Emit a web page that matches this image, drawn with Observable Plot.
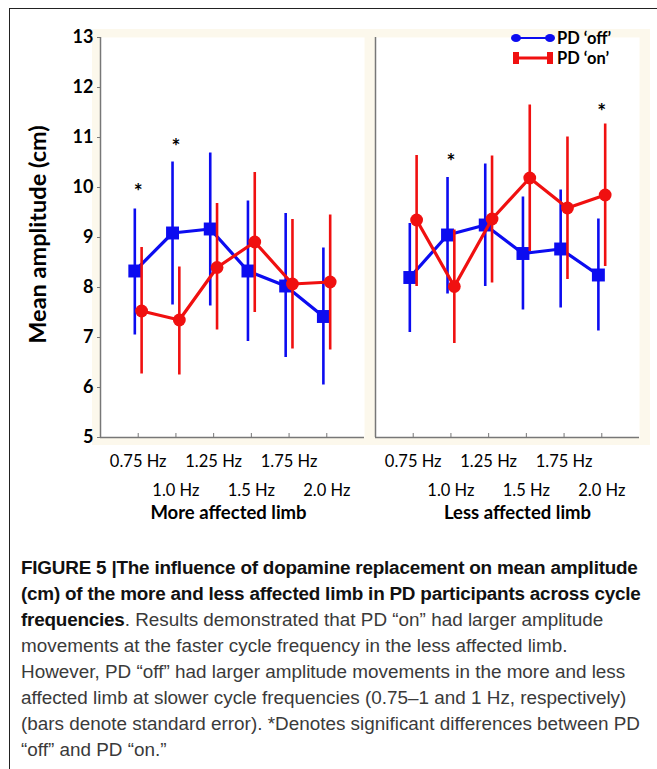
<!DOCTYPE html>
<html>
<head>
<meta charset="utf-8">
<script src="https://cdn.jsdelivr.net/npm/d3@7"></script>
<script src="https://cdn.jsdelivr.net/npm/@observablehq/plot@0.6"></script>
<style>
html,body{margin:0;padding:0;background:#fff;}
#fig{position:relative;width:657px;height:769px;overflow:hidden;font-family:Lato,"Open Sans",sans-serif;}
#border{position:absolute;left:9px;top:8px;width:700px;height:800px;border-left:1px solid #222;border-top:1px solid #222;}
#cream{position:absolute;left:92px;top:29px;width:558px;height:416px;background:#fcf8ec;}
.panel{position:absolute;top:0;}
#legend{position:absolute;left:505px;top:28px;overflow:visible;}
#caption{position:absolute;left:21px;top:555px;font-family:"Liberation Sans Narrow","Liberation Sans",Arial,sans-serif;font-size:17.5px;line-height:26px;color:#3a3a3a;transform-origin:0 0;white-space:nowrap;}
#caption b{color:#111;letter-spacing:-0.2px;}
</style>
</head>
<body>
<div id="fig">
  <div id="border"></div>
  <div id="cream"></div>
  <div id="left" class="panel" style="left:0px"></div>
  <div id="right" class="panel" style="left:370px"></div>
  <svg id="legend" width="140" height="44"></svg>
  <div id="caption">
    <div><span><b>FIGURE 5 |The influence of dopamine replacement on mean amplitude</b></span></div>
    <div><span><b>(cm) of the more and less affected limb in PD participants across cycle</b></span></div>
    <div><span><b>frequencies</b>. Results demonstrated that PD “on” had larger amplitude</span></div>
    <div><span>movements at the faster cycle frequency in the less affected limb.</span></div>
    <div><span>However, PD “off” had larger amplitude movements in the more and less</span></div>
    <div><span>affected limb at slower cycle frequencies (0.75–1 and 1 Hz, respectively)</span></div>
    <div><span>(bars denote standard error). *Denotes significant differences between PD</span></div>
    <div><span>“off” and PD “on.”</span></div>
  </div>
</div>
<script>
// ---------- data ----------
const freqLabels = ["0.75 Hz", "1.0 Hz", "1.25 Hz", "1.5 Hz", "1.75 Hz", "2.0 Hz"];
const freqIndex = [1, 2, 3, 4, 5, 6];
const upperRowTicks = [1, 3, 5];
const lowerRowTicks = [2, 4, 6];
const yTicks = [5, 6, 7, 8, 9, 10, 11, 12, 13];
const yLabel = ["Mean amplitude (cm)"];
const panelTitles = ["More affected limb", "Less affected limb"];
const seriesNames = ["PD ‘off’", "PD ‘on’"];
const seriesColors = ["#0c0cf0", "#f01010"];

// More affected limb
const moreOffMean = [8.33, 9.09, 9.17, 8.33, 8.03, 7.42];
const moreOffHi   = [9.57, 10.51, 10.69, 9.73, 9.48, 8.79];
const moreOffLo   = [7.05, 7.65, 7.63, 6.92, 6.60, 6.05];
const moreOnMean  = [7.53, 7.35, 8.40, 8.91, 8.07, 8.11];
const moreOnHi    = [8.80, 8.41, 9.68, 10.30, 9.36, 9.45];
const moreOnLo    = [6.27, 6.25, 7.15, 7.50, 6.77, 6.75];
const moreStarX   = [1, 2];
const moreStarY   = [10.0, 10.9];

// Less affected limb
const lessOffMean = [8.20, 9.05, 9.25, 8.68, 8.77, 8.25];
const lessOffHi   = [9.28, 10.20, 10.47, 9.81, 9.95, 9.37];
const lessOffLo   = [7.10, 7.87, 8.02, 7.55, 7.59, 7.13];
const lessOnMean  = [9.35, 8.02, 9.37, 10.19, 9.59, 9.85];
const lessOnHi    = [10.64, 9.15, 10.63, 11.65, 11.01, 11.27];
const lessOnLo    = [8.02, 6.88, 8.09, 8.72, 8.16, 8.42];
const lessStarX   = [2, 6];
const lessStarY   = [10.6, 11.6];

// ---------- helpers ----------
function table(mean, lo, hi) {
  return freqIndex.map((x, i) => ({x, mean: mean[i], lo: lo[i], hi: hi[i]}));
}
function seriesMarks(data, color, symbol, r, dx) {
  return [
    Plot.ruleX(data, {x: "x", y1: "lo", y2: "hi", stroke: color, strokeWidth: 2.6, dx}),
    Plot.line(data, {x: "x", y: "mean", stroke: color, strokeWidth: 3.2, dx}),
    Plot.dot(data, {x: "x", y: "mean", symbol, r, fill: color, stroke: "none", dx})
  ];
}
function panel(o) {
  const off = table(o.offMean, o.offLo, o.offHi);
  const on = table(o.onMean, o.onLo, o.onHi);
  const stars = o.starX.map((x, i) => ({x, y: o.starY[i]}));
  return Plot.plot({
    width: o.width, height: 540,
    marginLeft: o.marginLeft, marginRight: o.marginRight, marginTop: 37, marginBottom: 103,
    x: {domain: [0, 7], label: null, axis: null},
    y: {domain: [5, 13], label: null, axis: null},
    style: {background: "transparent", overflow: "visible", fontFamily: "Lato, sans-serif"},
    marks: [
      Plot.frame({fill: "white", stroke: null}),
      o.showY ? Plot.axisY(yTicks, {tickSize: 3, tickPadding: 4, tickFormat: d => String(d), fontSize: 18, fontWeight: "bold", fill: "#000", stroke: "#777", label: null}) : null,
      o.showY ? Plot.text(yLabel, {text: d => d, frameAnchor: "left", textAnchor: "middle", rotate: -90, dx: -62, dy: -3, fontSize: 23.5, fontWeight: "bold", fill: "#000"}) : null,
      Plot.axisX(freqIndex, {tickSize: 4, dy: -4, fill: "none", stroke: "#777", label: null}),
      Plot.axisX(upperRowTicks, {tickSize: 0, tickPadding: 18, tickFormat: d => freqLabels[d - 1], fontSize: 16.5, fill: "#000", label: null}),
      Plot.axisX(lowerRowTicks, {tickSize: 0, tickPadding: 47, tickFormat: d => freqLabels[d - 1], fontSize: 16.5, fill: "#000", label: null}),
      Plot.ruleX([0], {stroke: "#777", strokeWidth: 1.5}),
      Plot.ruleY([5], {stroke: "#777", strokeWidth: 1.5}),
      ...seriesMarks(off, seriesColors[0], "square", 7.3, -3.4),
      ...seriesMarks(on, seriesColors[1], "circle", 6.4, 3.4),
      Plot.text(stars, {x: "x", y: "y", text: () => "*", fontSize: 21, fontWeight: "bold", fill: "#000", dy: 5}),
      Plot.text([o.title], {text: d => d, frameAnchor: "bottom", dy: 81, dx: o.titleDx, fontSize: 18.5, fontWeight: "bold", fill: "#000"})
    ]
  });
}

document.getElementById("left").append(panel({
  offMean: moreOffMean, offLo: moreOffLo, offHi: moreOffHi,
  onMean: moreOnMean, onLo: moreOnLo, onHi: moreOnHi,
  starX: moreStarX, starY: moreStarY, title: panelTitles[0], titleDx: -4,
  width: 370, marginLeft: 100, marginRight: 6, showY: true
}));
document.getElementById("right").append(panel({
  offMean: lessOffMean, offLo: lessOffLo, offHi: lessOffHi,
  onMean: lessOnMean, onLo: lessOnLo, onHi: lessOnHi,
  starX: lessStarX, starY: lessStarY, title: panelTitles[1], titleDx: 10,
  width: 287, marginLeft: 5, marginRight: 18, showY: false
}));

// ---------- legend ----------
const lg = d3.select("#legend");
const rows = [10, 30];
seriesNames.forEach((name, i) => {
  const y = rows[i], c = seriesColors[i];
  lg.append("line").attr("x1", 11).attr("x2", 45).attr("y1", y).attr("y2", y).attr("stroke", c).attr("stroke-width", i ? 3 : 2);
  if (i === 0) {
    [11, 45].forEach(cx => lg.append("ellipse").attr("cx", cx).attr("cy", y).attr("rx", 5).attr("ry", 4).attr("fill", c));
  } else {
    [8, 42].forEach(rx => lg.append("rect").attr("x", rx).attr("y", y - 6).attr("width", 6).attr("height", 12).attr("fill", c));
  }
  lg.append("text").attr("x", 52).attr("y", y).attr("dy", "0.35em")
    .attr("font-family", "Lato, sans-serif").attr("font-weight", "bold").attr("font-size", 16.5).attr("fill", "#000").text(name);
});

// ---------- caption fit ----------
const cap = document.getElementById("caption");
const ref = cap.children[6].firstElementChild;
const k = 619 / ref.getBoundingClientRect().width;
cap.style.transform = `scaleX(${k})`;
</script>
</body>
</html>
